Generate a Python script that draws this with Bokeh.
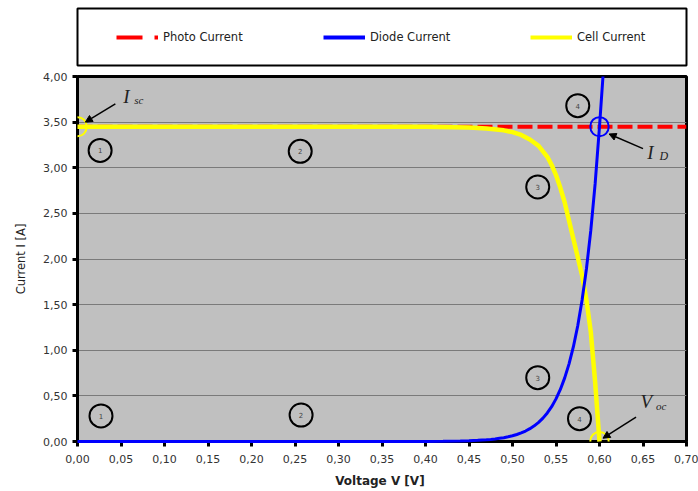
from bokeh.plotting import figure
from bokeh.layouts import column
from bokeh.models import (Range1d, FixedTicker, Legend, LegendItem, Label,
                          Arrow, NormalHead)
from bokeh.core.properties import value
from bokeh.embed import file_html
from bokeh.resources import INLINE

# ---- I-V characteristic of a solar cell --------------------------------
voltage = [0.00, 0.05, 0.10, 0.15, 0.20, 0.25, 0.30, 0.35, 0.40, 0.42, 0.44,
           0.45, 0.455, 0.46, 0.465, 0.47, 0.475, 0.48, 0.485, 0.49, 0.495,
           0.50, 0.505, 0.51, 0.515, 0.52, 0.525, 0.53, 0.535, 0.54, 0.545,
           0.55, 0.555, 0.56, 0.565, 0.57, 0.575, 0.58, 0.585, 0.59, 0.595,
           0.60, 0.604]
diode_current = [0.000, 0.000, 0.000, 0.000, 0.000, 0.000, 0.000, 0.000,
                 0.001, 0.003, 0.006, 0.009, 0.011, 0.013, 0.016, 0.019,
                 0.023, 0.028, 0.035, 0.042, 0.052, 0.063, 0.077, 0.094,
                 0.115, 0.141, 0.172, 0.210, 0.256, 0.313, 0.382, 0.467,
                 0.570, 0.697, 0.851, 1.039, 1.269, 1.550, 1.893, 2.313,
                 2.825, 3.450, 4.000]

cell_voltage = [0.00, 0.05, 0.10, 0.15, 0.20, 0.25, 0.30, 0.35, 0.40, 0.45,
                0.47, 0.49, 0.50, 0.51, 0.52, 0.53, 0.54, 0.545, 0.55, 0.555,
                0.56, 0.565, 0.57, 0.575, 0.58, 0.585, 0.59, 0.595, 0.60]
cell_current = [3.45, 3.45, 3.45, 3.45, 3.45, 3.45, 3.45, 3.45, 3.45, 3.44,
                3.43, 3.41, 3.39, 3.36, 3.31, 3.24, 3.12, 3.03, 2.92, 2.78,
                2.62, 2.42, 2.22, 2.02, 1.82, 1.55, 1.20, 0.65, 0.00]

photo_voltage = [0.00, 0.70]
photo_current = [3.45, 3.45]

isc = cell_current[0]      # short-circuit current
voc = cell_voltage[-1]     # open-circuit voltage

x_ticks = [0.0, 0.05, 0.1, 0.15, 0.2, 0.25, 0.3, 0.35, 0.4, 0.45, 0.5, 0.55,
           0.6, 0.65, 0.7]
x_tick_labels = ["0,00", "0,05", "0,10", "0,15", "0,20", "0,25", "0,30",
                 "0,35", "0,40", "0,45", "0,50", "0,55", "0,60", "0,65",
                 "0,70"]
y_ticks = [0.0, 0.5, 1.0, 1.5, 2.0, 2.5, 3.0, 3.5, 4.0]
y_tick_labels = ["0,00", "0,50", "1,00", "1,50", "2,00", "2,50", "3,00",
                 "3,50", "4,00"]

# operating-region markers
region_labels = ["1", "1", "2", "2", "3", "3", "4", "4"]
region_x = [0.026, 0.027, 0.256, 0.257, 0.529, 0.529, 0.575, 0.577]
region_y = [3.19, 0.28, 3.18, 0.29, 2.79, 0.70, 3.68, 0.25]

FONT = "DejaVu Sans"
SERIF = "Liberation Serif"

# ---- main chart ----------------------------------------------------------
p = figure(width=698, height=421, x_range=Range1d(0, 0.70),
           y_range=Range1d(0, 4.0), output_backend="svg",
           toolbar_location=None, min_border_left=74, min_border_right=12,
           min_border_top=6, min_border_bottom=50,
           background_fill_color="#c0c0c0", border_fill_color="white",
           outline_line_color="black", outline_line_width=3)

p.xgrid.visible = False
p.ygrid.grid_line_color = "#7a7a7a"
p.ygrid.grid_line_width = 1
p.ygrid.ticker = FixedTicker(ticks=y_ticks)

p.xaxis.ticker = FixedTicker(ticks=x_ticks)
p.yaxis.ticker = FixedTicker(ticks=y_ticks)
p.xaxis.major_label_overrides = dict(zip(x_ticks, x_tick_labels))
p.yaxis.major_label_overrides = dict(zip(y_ticks, y_tick_labels))

for ax in (p.xaxis[0], p.yaxis[0]):
    ax.axis_line_color = "black"
    ax.axis_line_width = 3
    ax.major_tick_line_color = "black"
    ax.major_tick_line_width = 3
    ax.major_tick_in = 0
    ax.major_tick_out = 5
    ax.minor_tick_line_color = None
    ax.major_label_text_font = FONT
    ax.major_label_text_font_size = "11px"
    ax.major_label_text_color = "#333333"

p.xaxis.major_label_standoff = 8
p.yaxis.major_label_standoff = 5

p.xaxis.axis_label = "Voltage V  [V]"
p.xaxis.axis_label_text_font = FONT
p.xaxis.axis_label_text_font_size = "12px"
p.xaxis.axis_label_text_font_style = "bold"
p.xaxis.axis_label_text_color = "#222222"
p.xaxis.axis_label_standoff = 8

p.yaxis.axis_label = "Current I [A]"
p.yaxis.axis_label_text_font = FONT
p.yaxis.axis_label_text_font_size = "11.5px"
p.yaxis.axis_label_text_font_style = "normal"
p.yaxis.axis_label_text_color = "#222222"
p.yaxis.axis_label_standoff = 12

# curves (the diode curve sits on top of the axis line)
p.line(photo_voltage, photo_current, line_color="#ff0000", line_width=4,
       line_dash="15 5")
p.line(cell_voltage, cell_current, line_color="#ffff00", line_width=4.5,
       level="overlay")
p.line(voltage, diode_current, line_color="#0000ff", line_width=3,
       level="overlay")

# numbered region markers
p.scatter(region_x, region_y, marker="circle", size=23, fill_color=None,
          line_color="black", line_width=2)
p.text(region_x, region_y, text=region_labels, text_align="center",
       text_baseline="middle", text_font=value(FONT), text_font_size="7px",
       text_color="#444444")


def ring(x, y, color):
    # hollow ring around a characteristic point, drawn as an annotation so
    # it is not cut at the frame edge
    return Label(x=x, y=y, text=" ", text_font_size="1px",
                 text_align="center", text_baseline="middle", padding=9,
                 border_line_color=color, border_line_width=2,
                 border_radius=9, background_fill_color=None)


p.add_layout(ring(0.0, isc, "#ffff00"))
p.add_layout(ring(voc, 0.0, "#ffff00"))
p.add_layout(ring(voc, isc, "#0000ff"))


def arrow(x0, y0, x1, y1):
    return Arrow(end=NormalHead(size=7, fill_color="black", line_color="black"),
                 x_start=x0, y_start=y0, x_end=x1, y_end=y1,
                 line_color="black", line_width=1.5)


p.add_layout(arrow(0.0435, 3.70, 0.009, isc + 0.05))
p.add_layout(arrow(0.650, 3.21, voc + 0.011, isc - 0.08))
p.add_layout(arrow(0.642, 0.267, voc + 0.004, 0.036))


def symbol(x, y, text, size):
    return Label(x=x, y=y, text=text, text_font=SERIF,
                 text_font_style="italic", text_font_size=size,
                 text_color="#222222", text_baseline="alphabetic",
                 text_align="left")


p.add_layout(symbol(0.0526, 3.78, "I", "19px"))
p.add_layout(symbol(0.0652, 3.74, "sc", "11px"))
p.add_layout(symbol(0.655, 3.17, "I", "19px"))
p.add_layout(symbol(0.669, 3.125, "D", "12px"))
p.add_layout(symbol(0.647, 0.435, "V", "19px"))
p.add_layout(symbol(0.665, 0.39, "oc", "11px"))

# ---- legend strip ----------------------------------------------------------
lg = figure(width=698, height=70, x_range=Range1d(0, 1), y_range=Range1d(0, 1),
            output_backend="svg", toolbar_location=None,
            x_axis_location=None, y_axis_location=None,
            min_border_left=77, min_border_right=12, min_border_top=8,
            min_border_bottom=5, outline_line_color="black",
            outline_line_width=2, background_fill_color="white",
            border_fill_color="white")
lg.grid.visible = False

# key renderers live outside the visible range; only their legend glyphs show
key_x = [-2, -1]
key_y = [-2, -1]
key_photo = lg.line(key_x, key_y, line_color="#ff0000", line_width=4,
                    line_dash="26 12")
key_diode = lg.line(key_x, key_y, line_color="#0000ff", line_width=4)
key_cell = lg.line(key_x, key_y, line_color="#ffff00", line_width=4)

legend = Legend(items=[LegendItem(label="Photo Current", renderers=[key_photo]),
                       LegendItem(label="Diode Current", renderers=[key_diode]),
                       LegendItem(label="Cell Current", renderers=[key_cell])],
                orientation="horizontal", location=(39, 21), padding=0,
                margin=0, spacing=40, glyph_width=42, glyph_height=14,
                label_width=120, label_height=14, label_standoff=5,
                border_line_color=None, background_fill_alpha=0,
                label_text_font=FONT, label_text_font_size="11.5px",
                label_text_color="#222222")
lg.add_layout(legend)

layout = column(lg, p, spacing=0)
open("out.html", "w").write(file_html(layout, INLINE))
